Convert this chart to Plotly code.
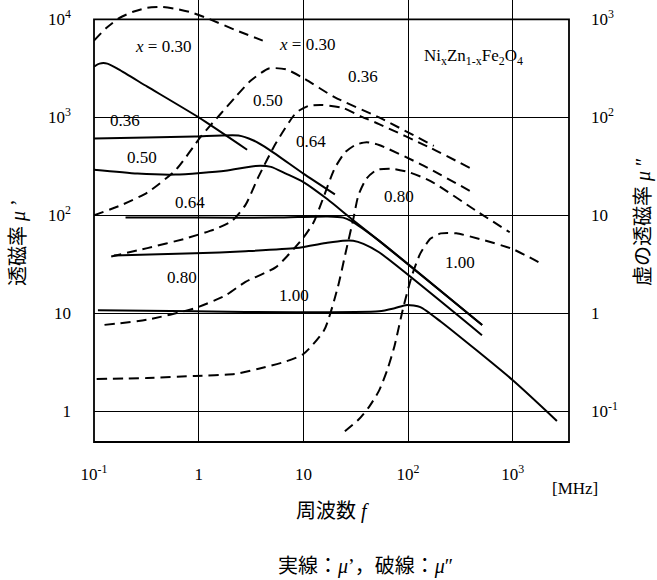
import plotly.graph_objects as go

FONT = "Liberation Serif, Noto Sans CJK JP, serif"

# ---------------- data (frequency in MHz) ----------------
# solid lines: mu' (left axis)
f_s030 = [0.1, 0.113, 0.134, 0.172, 0.323, 1.0, 2.9]
mu_s030 = [3300, 3540, 3540, 3090, 2060, 1000, 468]

f_s036 = [0.1, 0.32, 0.92, 2.4, 3.3, 4.7, 10, 20]
mu_s036 = [610, 625, 640, 655, 585, 470, 267, 164]

f_s050 = [0.1, 0.26, 0.6, 1.8, 3.5, 4.9, 6.8, 10, 17, 28.5, 53, 510]
mu_s050 = [292, 267, 261, 286, 320, 313, 267, 219, 146, 93, 55, 7.6]

f_s064 = [0.2, 0.92, 5.5, 17, 24, 28.5, 53, 510]
mu_s064 = [95, 95, 95, 97.6, 95, 88, 55, 7.6]

f_s080 = [0.155, 0.92, 2.8, 8.55, 16.9, 23.8, 29.9, 37.5, 52.8, 508]
mu_s080 = [39, 41, 43.1, 46.4, 52.5, 55.2, 55.2, 51.3, 42.1, 6.0]

f_s100 = [0.109, 0.92, 8.55, 52.8, 74.3, 97.7, 131, 206, 1000, 2640]
mu_s100 = [10.8, 10.5, 10.25, 10.5, 11.3, 12.2, 11.6, 8.22, 2.08, 0.80]

# dashed lines: mu'' (right axis)
f_d030 = [0.1, 0.131, 0.172, 0.236, 0.323, 0.442, 0.605, 0.864, 1.22, 2.24, 4.09]
mu_d030 = [608, 816, 1023, 1197, 1312, 1341, 1282, 1172, 1023, 780, 608]

f_d036 = [0.1, 0.184, 0.323, 0.605, 1.07, 1.6, 2.24, 3.13, 4.68, 6.84, 10, 19.8, 52.8, 176]
mu_d036 = [10, 12.8, 17.1, 29.2, 65.4, 107, 161, 236, 316, 309, 252, 161, 100, 51.2]

f_d050 = [0.146, 0.323, 0.746, 1.43, 2.09, 2.8, 3.74, 5.47, 8.55, 11.2, 15.1, 23.8, 35.8, 52.8, 164, 405]
mu_d050 = [3.81, 4.64, 5.8, 7.24, 8.84, 12.8, 25.0, 54.7, 112, 131, 134, 125, 102, 85.5, 48.8, 29.9]

f_d064 = [0.126, 0.323, 0.92, 1.79, 2.8, 5.47, 10, 12.6, 15.8, 19.8, 24.9, 31.3, 40.2, 52.8, 131, 434]
mu_d064 = [0.764, 0.863, 1.13, 1.52, 2.10, 2.97, 5.94, 8.61, 16.0, 29.9, 43.8, 52.3, 55.9, 52.3, 33.4, 16.7]

f_d080 = [0.106, 0.323, 0.92, 2.24, 3.74, 6.84, 10, 15.8, 21.2, 25.5, 29.9, 33.5, 40.2, 50.5, 71, 105, 164, 474, 935]
mu_d080 = [0.214, 0.219, 0.23, 0.241, 0.273, 0.324, 0.385, 0.676, 1.81, 4.31, 9.06, 16.0, 23.9, 29.2, 29.9, 27.3, 22.4, 10.7, 6.73]

f_d100 = [24.9, 33.5, 42.1, 52.8, 63.4, 74.3, 89.1, 109, 131, 164, 206, 289, 508, 1000, 1967]
mu_d100 = [0.0628, 0.0822, 0.110, 0.163, 0.267, 0.468, 1.10, 2.44, 4.10, 5.80, 6.56, 6.56, 5.66, 4.53, 3.13]

x_tickvals = [0.1, 1, 10, 100, 1000]
x_ticktext = ["10<sup>-1</sup>", "1", "10", "10<sup>2</sup>", "10<sup>3</sup>"]
y_tickvals = [1, 10, 100, 1000, 10000]
y_ticktext = ["1", "10", "10<sup>2</sup>", "10<sup>3</sup>", "10<sup>4</sup>"]
y2_tickvals = [0.1, 1, 10, 100, 1000]
y2_ticktext = ["10<sup>-1</sup>", "1", "10", "10<sup>2</sup>", "10<sup>3</sup>"]

# curve labels: (text, log10 f, log10 mu' position)
labels = [
    ("<i>x</i> = 0.30", -0.345, 3.725),
    ("<i>x</i> = 0.30", 1.03, 3.745),
    ("0.36", -0.70, 2.971),
    ("0.50", -0.545, 2.592),
    ("0.64", -0.082, 2.136),
    ("0.80", -0.155, 1.366),
    ("1.00", 0.913, 1.183),
    ("0.50", 0.66, 3.176),
    ("0.36", 1.574, 3.422),
    ("0.64", 1.069, 2.757),
    ("0.80", 1.911, 2.194),
    ("1.00", 2.50, 1.516),
]

# ---------------- layout constants ----------------
W, H = 657, 580
ML, MR, MT, MB = 94, 88, 0, 138
XR = [-1.0, 3.537]
YR = [-0.312, 4.198]
Y2R = [YR[0] - 1, YR[1] - 1]


def px(lx):
    return (lx - XR[0]) / (XR[1] - XR[0])


def py(ly):
    return (ly - YR[0]) / (YR[1] - YR[0])


fig = go.Figure()

solid = [(f_s030, mu_s030), (f_s036, mu_s036), (f_s050, mu_s050),
         (f_s064, mu_s064), (f_s080, mu_s080), (f_s100, mu_s100)]
dashed = [(f_d030, mu_d030), (f_d036, mu_d036), (f_d050, mu_d050),
          (f_d064, mu_d064), (f_d080, mu_d080), (f_d100, mu_d100)]

for fx, mu in solid:
    fig.add_trace(go.Scatter(x=fx, y=mu, mode="lines", yaxis="y",
                             line=dict(color="black", width=2, shape="spline", smoothing=0.6),
                             showlegend=False, hoverinfo="skip"))
for fx, mu in dashed:
    fig.add_trace(go.Scatter(x=fx, y=mu, mode="lines", yaxis="y2",
                             line=dict(color="black", width=2, dash="10px,6px",
                                       shape="spline", smoothing=0.6),
                             showlegend=False, hoverinfo="skip"))

shapes = []
# white boxes that interrupt gridlines around labels
gaps = [
    (-0.05, 0.05, 3.588, 3.863),
    (0.95, 1.05, 3.598, 3.912),
    (-0.918, -0.373, 2.95, 3.05),
    (1.95, 3.05, 3.451, 3.833),
    (0.95, 1.05, 2.621, 2.932),
    (1.95, 2.05, 2.039, 2.320),
    (-0.05, 0.05, 2.043, 2.350),
    (-0.05, 0.05, 1.226, 1.559),
    (0.95, 1.05, 1.043, 1.387),
    (XR[0], XR[1], 4.0, YR[1]),
]
for x0, x1, y0, y1 in gaps:
    shapes.append(dict(type="rect", xref="paper", yref="paper",
                       x0=px(x0), x1=px(x1), y0=py(y0), y1=py(y1),
                       fillcolor="white", line=dict(width=0), layer="between"))
# frame
shapes.append(dict(type="rect", xref="paper", yref="paper", x0=0, x1=1, y0=0, y1=py(4.0),
                   line=dict(color="black", width=1.8), layer="above"))

annotations = []
for t, lx, ly in labels:
    annotations.append(dict(text=t, x=lx, y=ly, xref="x", yref="y", showarrow=False,
                            xanchor="center", yanchor="middle",
                            font=dict(family=FONT, size=17, color="black")))
annotations.append(dict(text="Ni<sub>x</sub>Zn<sub>1-x</sub>Fe<sub>2</sub>O<sub>4</sub>",
                        x=2.627, y=3.618, xref="x", yref="y", showarrow=False,
                        xanchor="center", yanchor="middle",
                        font=dict(family=FONT, size=17, color="black")))


def pxp(p):
    return (p - ML) / (W - ML - MR)


def pyp(p):
    return (H - MB - p) / (H - MB - MT)


annotations += [
    dict(text="透磁率 <i>μ</i> ’", x=pxp(18), y=pyp(243), xref="paper", yref="paper",
         textangle=-90, showarrow=False, xanchor="center", yanchor="middle",
         font=dict(family=FONT, size=20, color="black")),
    dict(text="虚の透磁率 <i>μ</i> ″", x=pxp(643), y=pyp(222), xref="paper", yref="paper",
         textangle=-90, showarrow=False, xanchor="center", yanchor="middle",
         font=dict(family=FONT, size=20, color="black")),
    dict(text="周波数 <i>f</i>", x=pxp(332), y=pyp(512), xref="paper", yref="paper",
         showarrow=False, xanchor="center", yanchor="middle",
         font=dict(family=FONT, size=20, color="black")),
    dict(text="[MHz]", x=pxp(575), y=pyp(488), xref="paper", yref="paper",
         showarrow=False, xanchor="center", yanchor="middle",
         font=dict(family=FONT, size=17, color="black")),
    dict(text="実線：<i>μ</i>’，破線：<i>μ</i>″", x=pxp(365), y=pyp(566), xref="paper", yref="paper",
         showarrow=False, xanchor="center", yanchor="middle",
         font=dict(family=FONT, size=20, color="black")),
]

fig.update_layout(
    width=W, height=H,
    margin=dict(l=ML, r=MR, t=MT, b=MB, pad=0),
    paper_bgcolor="white", plot_bgcolor="white",
    font=dict(family=FONT, size=17, color="black"),
    xaxis=dict(type="log", range=XR, tickvals=x_tickvals, ticktext=x_ticktext,
               showgrid=True, gridcolor="black", gridwidth=1, showline=False,
               ticks="", ticklabelstandoff=20, zeroline=False,
               tickfont=dict(family=FONT, size=17)),
    yaxis=dict(type="log", range=YR, tickvals=y_tickvals, ticktext=y_ticktext,
               showgrid=True, gridcolor="black", gridwidth=1, showline=False,
               ticks="", ticklabelstandoff=22, zeroline=False,
               tickfont=dict(family=FONT, size=17)),
    yaxis2=dict(type="log", range=Y2R, tickvals=y2_tickvals, ticktext=y2_ticktext,
                overlaying="y", side="right", showgrid=False, showline=False,
                ticks="", ticklabelstandoff=21, zeroline=False,
                tickfont=dict(family=FONT, size=17)),
    shapes=shapes,
    annotations=annotations,
)

fig.write_html("out.html")
